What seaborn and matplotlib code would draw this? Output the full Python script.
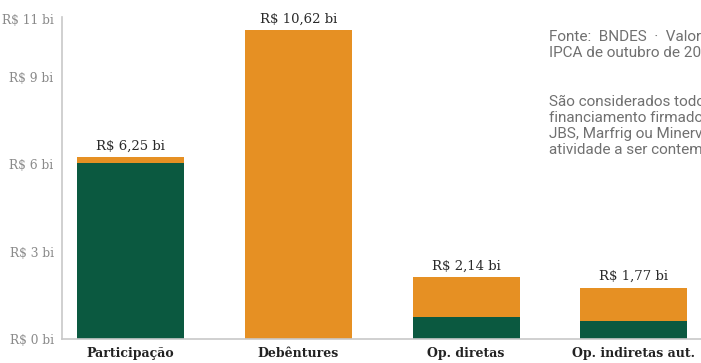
import matplotlib
matplotlib.use("Agg")
import matplotlib.pyplot as plt
import seaborn as sns
import pandas as pd

categories = ["Participação", "Debêntures", "Op. diretas", "Op. indiretas aut."]
total_values = [6.25, 10.62, 2.14, 1.77]
green_values = [6.05, 0.0, 0.75, 0.62]
value_labels = ["R$ 6,25 bi", "R$ 10,62 bi", "R$ 2,14 bi", "R$ 1,77 bi"]
yticks = [0, 3, 6, 9, 11]
ytick_labels = ["R$ 0 bi", "R$ 3 bi", "R$ 6 bi", "R$ 9 bi", "R$ 11 bi"]

ORANGE = "#E69023"
GREEN = "#0B5940"

df = pd.DataFrame({"cat": categories, "total": total_values, "green": green_values})

sns.set_theme(style="white")
plt.rcParams["font.family"] = ["DejaVu Serif"]

fig = plt.figure(figsize=(7.01, 3.63), dpi=100)
ax = fig.add_axes([62 / 701, 1 - 339 / 363, 1 - 62 / 701, (339 - 17) / 363])

sns.barplot(data=df, x="cat", y="total", color=ORANGE, width=0.637, ax=ax,
            saturation=1, edgecolor="none", linewidth=0)
sns.barplot(data=df, x="cat", y="green", color=GREEN, width=0.637, ax=ax,
            saturation=1, edgecolor="none", linewidth=0)

ax.set_xlim(-0.408, 3.4)
ax.set_ylim(0, 11.07)
ax.set_xlabel("")
ax.set_ylabel("")
ax.set_yticks(yticks)
ax.set_yticklabels(ytick_labels, color="#8a8a8a", fontsize=8.8)
ax.set_xticks(range(len(categories)))
ax.set_xticklabels(categories, fontsize=9, fontweight="bold", color="#222222")
ax.tick_params(axis="y", length=0, pad=6)
ax.tick_params(axis="x", length=0, pad=6)

for s in ["top", "right"]:
    ax.spines[s].set_visible(False)
for s in ["left", "bottom"]:
    ax.spines[s].set_color("#c8c8c8")
    ax.spines[s].set_linewidth(1.2)

for i, (v, lab) in enumerate(zip(total_values, value_labels)):
    ax.text(i, v + 0.15, lab, ha="center", va="bottom", fontsize=9.5, color="#2a2a2a")

note_source = "Fonte:  BNDES  ·  Valores corrigidos pelo\nIPCA de outubro de 2020"
note_body = ("São considerados todos os contratos de\n"
             "financiamento firmados com empresas\n"
             "JBS, Marfrig ou Minerva, com a\n"
             "atividade a ser contemplada")
note_kw = dict(ha="left", va="top", fontsize=11, color="#707070",
               family=["Roboto", "DejaVu Sans"], linespacing=1.17)
fig.text(549 / 701, 1 - 30 / 363, note_source, **note_kw)
fig.text(549 / 701, 1 - 95 / 363, note_body, **note_kw)

fig.savefig("out.png", dpi=100)
